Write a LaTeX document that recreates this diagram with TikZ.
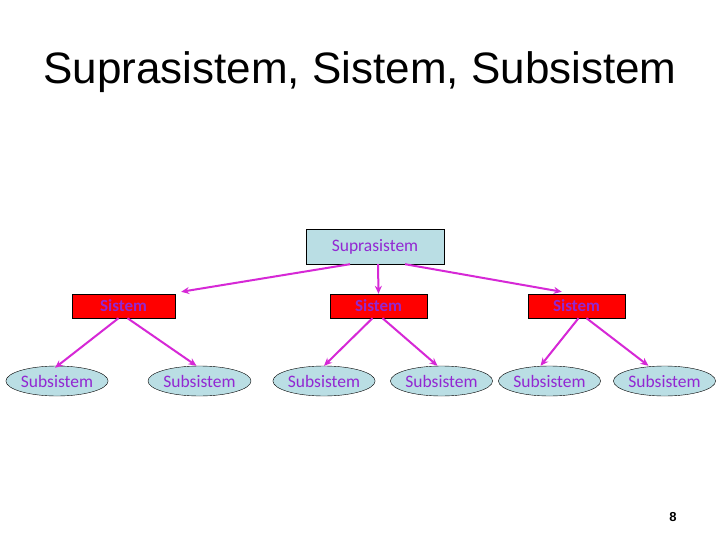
\documentclass[tikz,border=0pt]{standalone}
\usepackage{fontspec}
\setmainfont{Liberation Sans}
\newfontfamily\lblfont{Carlito}
\usetikzlibrary{shapes.geometric,arrows.meta,calc}
\definecolor{boxblue}{RGB}{186,222,228}
\definecolor{lblpurple}{RGB}{146,40,210}
\definecolor{arrmag}{RGB}{214,40,214}
\tikzset{
  supbox/.style={draw=black,fill=boxblue,minimum width=138pt,minimum height=35pt,inner sep=0pt,font=\lblfont\fontsize{17.5}{20}\selectfont,text=lblpurple},
  sisbox/.style={draw=black,fill=red,minimum width=100pt,minimum height=24pt,inner sep=0pt,font=\lblfont\bfseries\fontsize{17}{20}\selectfont,text=lblpurple},
  subell/.style={ellipse,draw=black,fill=boxblue,minimum width=100pt,minimum height=30pt,inner sep=0pt,font=\lblfont\fontsize{17.5}{20}\selectfont,text=lblpurple},
  conn/.style={draw=arrmag,line width=2pt,-{Stealth[length=8pt,width=7pt]}}
}
\begin{document}
\begin{tikzpicture}[x=1pt,y=-1pt]
\useasboundingbox (0,0) rectangle (720,540);
\fill[white] (0,0) rectangle (720,540);
\node[anchor=base,font=\fontsize{44}{50}\selectfont] (title) at (360,84) {Suprasistem, Sistem, Subsistem};
\node[supbox] (sup) at (375,246.5) {Suprasistem};
\node[sisbox,minimum width=103pt] (s1) at (123.5,306) {Sistem};
\node[sisbox,minimum width=97pt] (s2) at (378.5,306) {Sistem};
\node[sisbox,minimum width=97pt] (s3) at (576.5,306) {Sistem};
\node[subell] (e1) at (57,381) {Subsistem};
\node[subell,minimum width=103pt] (e2) at (199.5,381) {Subsistem};
\node[subell] (e3) at (324,381) {Subsistem};
\node[subell] (e4) at (441.5,381) {Subsistem};
\node[subell] (e5) at (549.5,381) {Subsistem};
\node[subell] (e6) at (664.5,381) {Subsistem};
\node[font=\bfseries\fontsize{13}{15}\selectfont] (pg) at (673,517) {8};
\draw[conn] ($(sup.south)+(-25,0)$) -- ($(s1.north east)+(6,-2)$);
\draw[conn] ($(sup.south)+(3,0)$) -- (s2.north);
\draw[conn] ($(sup.south)+(30,0)$) -- ($(s3.north west)+(34,-2)$);
\draw[conn] ($(s1.south)+(-5,0)$) -- ($(e1.north)+(-2,2)$);
\draw[conn] ($(s1.south)+(4,0)$) -- ($(e2.north)+(-3,0)$);
\draw[conn] ($(s2.south)+(-6,0)$) -- (e3.north);
\draw[conn] ($(s2.south)+(4,0)$) -- ($(e4.north)+(-4,0)$);
\draw[conn] ($(s3.south)+(2,0)$) -- ($(e5.north)+(-9,0)$);
\draw[conn] ($(s3.south)+(10,0)$) -- ($(e6.north)+(-16,0)$);
\end{tikzpicture}
\end{document}
